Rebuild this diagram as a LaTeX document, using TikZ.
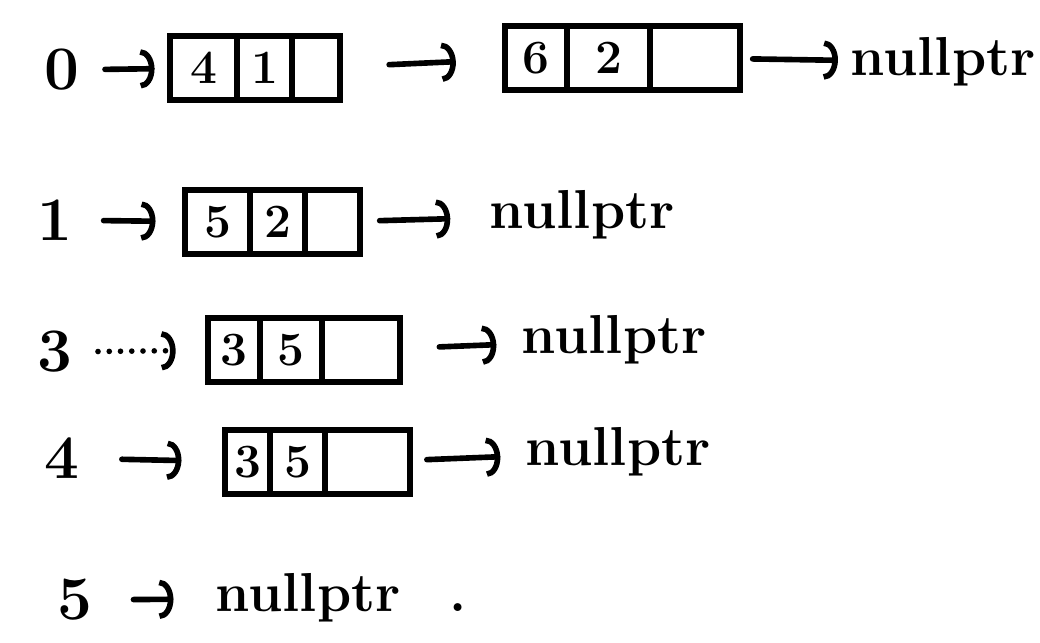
\documentclass[tikz,border=0pt]{standalone}
\usetikzlibrary{arrows.meta, positioning}
\tikzset{
  cell/.style={rectangle, draw=black, line width=4.5pt, inner sep=0pt, outer sep=0pt,
               minimum height=64*0.025cm, font=\fontsize{34}{40}\selectfont\bfseries},
  wd/.style={minimum width=#1*0.025cm},
  idx/.style={inner sep=4pt, font=\fontsize{44}{50}\selectfont\bfseries},
  nullnode/.style={anchor=west, inner sep=4pt, font=\fontsize{39}{46}\selectfont\bfseries},
  ptr/.style={line width=4pt, line cap=round, shorten <=14pt, shorten >=14pt,
              -{Arc Barb[length=10pt, width=28pt]}},
  dotptr/.style={ptr, dash pattern=on 0pt off 8pt},
}
\begin{document}
\begin{tikzpicture}[x=0.025cm, y=-0.025cm]
  \useasboundingbox (0,0) rectangle (1040,643);
  % bucket 0
  \node[idx] (i0) at (62,70) {0};
  \node[cell, wd=67, anchor=west] (a1) at (170,68) {4};
  \node[cell, wd=55, right=0pt of a1] (a2) {1};
  \node[cell, wd=48, right=0pt of a2] (a3) {};
  \node[cell, wd=62, anchor=west] (b1) at (505,58) {6};
  \node[cell, wd=83, right=0pt of b1] (b2) {2};
  \node[cell, wd=90, right=0pt of b2] (b3) {};
  \node[nullnode] (n0) at (845,62) {nullptr};
  \draw[ptr, shorten >=11pt] (i0) -- (a1);
  \draw[ptr, shorten <=35pt, shorten >=35pt] (a3) -- (b1);
  \draw[ptr, shorten <=9pt, shorten >=5pt] (b3) -- (n0);
  % bucket 1
  \node[idx] (i1) at (55,220) {1};
  \node[cell, wd=65, anchor=west] (c1) at (185,222) {5};
  \node[cell, wd=55, right=0pt of c1] (c2) {2};
  \node[cell, wd=55, right=0pt of c2] (c3) {};
  \node[nullnode] (n1) at (484,215) {nullptr};
  \draw[ptr, shorten <=18pt, shorten >=21pt] (i1) -- (c1);
  \draw[ptr, shorten >=24pt] (c3) -- (n1);
  % bucket 3
  \node[idx] (i3) at (55,352) {3};
  \node[cell, wd=52, anchor=west] (d1) at (208,350) {3};
  \node[cell, wd=62, right=0pt of d1] (d2) {5};
  \node[cell, wd=78, right=0pt of d2] (d3) {};
  \node[nullnode] (n3) at (516,340) {nullptr};
  \draw[dotptr, shorten >=23pt] (i3) -- (d1);
  \draw[ptr, shorten <=28pt] (d3) -- (n3);
  % bucket 4
  \node[idx] (i4) at (62,458) {4};
  \node[cell, wd=45, anchor=west] (e1) at (225,462) {3};
  \node[cell, wd=55, right=0pt of e1] (e2) {5};
  \node[cell, wd=85, right=0pt of e2] (e3) {};
  \node[nullnode] (n4) at (520,452) {nullptr};
  \draw[ptr, shorten <=26pt, shorten >=31pt] (i4) -- (e1);
  \draw[ptr, shorten <=12pt] (e3) -- (n4);
  % bucket 5
  \node[idx] (i5) at (75,600) {5};
  \node[nullnode] (n5) at (210,598) {nullptr\hspace{0.9em}.};
  \draw[ptr, shorten <=25pt, shorten >=26pt] (i5) -- (n5);
\end{tikzpicture}
\end{document}
